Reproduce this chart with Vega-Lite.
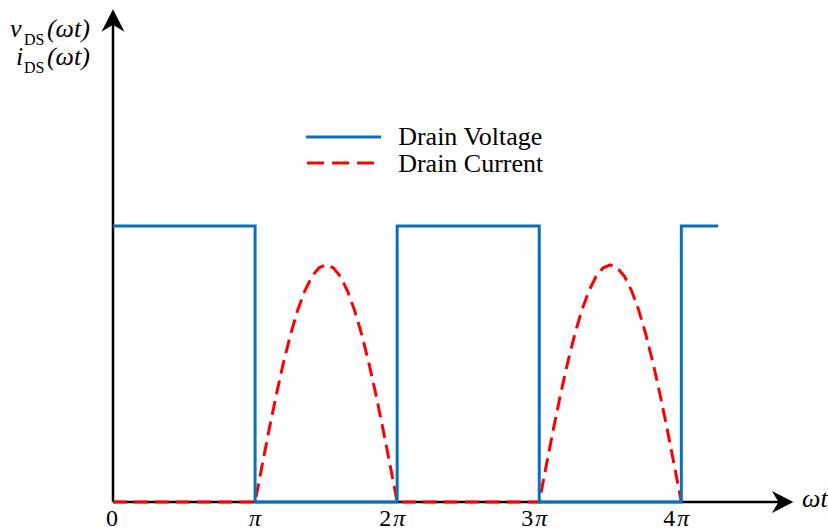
{
  "$schema": "https://vega.github.io/schema/vega-lite/v6.json",
  "autosize": {"type": "none"},
  "width": 682,
  "height": 497,
  "padding": {"left": 113, "top": 5, "right": 33, "bottom": 28},
  "background": "white",
  "config": {"view": {"stroke": null}},
  "datasets": {
    "axes": [
      {"x": 0, "x2": 4.7, "y": 0, "y2": 0},
      {"x": 0, "x2": 0, "y": 0, "y2": 1.73}
    ],
    "voltage": [
      {"i": 0, "x": 0, "y": 1},
      {"i": 1, "x": 1, "y": 1},
      {"i": 2, "x": 1, "y": 0},
      {"i": 3, "x": 2, "y": 0},
      {"i": 4, "x": 2, "y": 1},
      {"i": 5, "x": 3, "y": 1},
      {"i": 6, "x": 3, "y": 0},
      {"i": 7, "x": 4, "y": 0},
      {"i": 8, "x": 4, "y": 1},
      {"i": 9, "x": 4.26, "y": 1}
    ],
    "current": [
      {"i": 0, "x": 0, "y": 0},
      {"i": 1, "x": 1.0, "y": 0},
      {"i": 2, "x": 1.05, "y": 0.134},
      {"i": 3, "x": 1.1, "y": 0.265},
      {"i": 4, "x": 1.15, "y": 0.39},
      {"i": 5, "x": 1.2, "y": 0.505},
      {"i": 6, "x": 1.25, "y": 0.607},
      {"i": 7, "x": 1.3, "y": 0.695},
      {"i": 8, "x": 1.35, "y": 0.765},
      {"i": 9, "x": 1.4, "y": 0.817},
      {"i": 10, "x": 1.45, "y": 0.848},
      {"i": 11, "x": 1.5, "y": 0.859},
      {"i": 12, "x": 1.55, "y": 0.848},
      {"i": 13, "x": 1.6, "y": 0.817},
      {"i": 14, "x": 1.65, "y": 0.765},
      {"i": 15, "x": 1.7, "y": 0.695},
      {"i": 16, "x": 1.75, "y": 0.607},
      {"i": 17, "x": 1.8, "y": 0.505},
      {"i": 18, "x": 1.85, "y": 0.39},
      {"i": 19, "x": 1.9, "y": 0.265},
      {"i": 20, "x": 1.95, "y": 0.134},
      {"i": 21, "x": 2.0, "y": 0},
      {"i": 22, "x": 3.0, "y": 0},
      {"i": 23, "x": 3.05, "y": 0.134},
      {"i": 24, "x": 3.1, "y": 0.265},
      {"i": 25, "x": 3.15, "y": 0.39},
      {"i": 26, "x": 3.2, "y": 0.505},
      {"i": 27, "x": 3.25, "y": 0.607},
      {"i": 28, "x": 3.3, "y": 0.695},
      {"i": 29, "x": 3.35, "y": 0.765},
      {"i": 30, "x": 3.4, "y": 0.817},
      {"i": 31, "x": 3.45, "y": 0.848},
      {"i": 32, "x": 3.5, "y": 0.859},
      {"i": 33, "x": 3.55, "y": 0.848},
      {"i": 34, "x": 3.6, "y": 0.817},
      {"i": 35, "x": 3.65, "y": 0.765},
      {"i": 36, "x": 3.7, "y": 0.695},
      {"i": 37, "x": 3.75, "y": 0.607},
      {"i": 38, "x": 3.8, "y": 0.505},
      {"i": 39, "x": 3.85, "y": 0.39},
      {"i": 40, "x": 3.9, "y": 0.265},
      {"i": 41, "x": 3.95, "y": 0.134},
      {"i": 42, "x": 4.0, "y": 0}
    ],
    "arrowUp": [{"x": 0, "y": 1.7428}],
    "arrowRight": [{"x": 4.711, "y": 0}],
    "labelsBig": [
      {"x": -0.725, "y": 1.685, "text": "v"},
      {"x": -0.465, "y": 1.685, "text": "(ωt)"},
      {"x": -0.683, "y": 1.583, "text": "i"},
      {"x": -0.465, "y": 1.583, "text": "(ωt)"},
      {"x": 4.85, "y": -0.018, "text": "ωt"}
    ],
    "labelsSmall": [
      {"x": -0.627, "y": 1.656, "text": "DS"},
      {"x": -0.627, "y": 1.554, "text": "DS"}
    ],
    "tickZero": [{"x": 0, "y": -0.087, "text": "0"}],
    "tickPiAlone": [{"x": 1, "y": -0.087, "text": "π"}],
    "tickDigits": [
      {"x": 2, "y": -0.087, "text": "2"},
      {"x": 3, "y": -0.087, "text": "3"},
      {"x": 4, "y": -0.087, "text": "4"}
    ],
    "tickPi": [
      {"x": 2, "y": -0.087, "text": "π"},
      {"x": 3, "y": -0.087, "text": "π"},
      {"x": 4, "y": -0.087, "text": "π"}
    ],
    "legendV": [{"x": 1.359, "x2": 1.887, "y": 1.322}],
    "legendC": [{"x": 1.366, "x2": 1.866, "y": 1.228}],
    "legendText": [
      {"x": 2.007, "y": 1.2935, "text": "Drain Voltage"},
      {"x": 2.007, "y": 1.1957, "text": "Drain Current"}
    ]
  },
  "layer": [
    {
      "data": {"name": "axes"},
      "mark": {"type": "rule", "color": "black", "strokeWidth": 2.5},
      "encoding": {
        "x": {"field": "x", "type": "quantitative", "scale": {"domain": [0, 4.8], "nice": false, "zero": false}, "axis": null},
        "x2": {"field": "x2"},
        "y": {"field": "y", "type": "quantitative", "scale": {"domain": [0, 1.8], "nice": false, "zero": false}, "axis": null},
        "y2": {"field": "y2"}
      }
    },
    {
      "data": {"name": "current"},
      "mark": {"type": "line", "color": "#ff0000", "strokeWidth": 3, "strokeDash": [14, 7]},
      "encoding": {
        "x": {"field": "x", "type": "quantitative"},
        "y": {"field": "y", "type": "quantitative"},
        "order": {"field": "i"}
      }
    },
    {
      "data": {"name": "voltage"},
      "mark": {"type": "line", "color": "#0b6fc0", "strokeWidth": 3},
      "encoding": {
        "x": {"field": "x", "type": "quantitative"},
        "y": {"field": "y", "type": "quantitative"},
        "order": {"field": "i"}
      }
    },
    {
      "data": {"name": "arrowUp"},
      "mark": {"type": "point", "shape": "M0,-1L1,0.95L0,0.35L-1,0.95Z", "filled": true, "color": "black", "opacity": 1, "size": 529, "strokeWidth": 0},
      "encoding": {
        "x": {"field": "x", "type": "quantitative"},
        "y": {"field": "y", "type": "quantitative"}
      }
    },
    {
      "data": {"name": "arrowRight"},
      "mark": {"type": "point", "shape": "M1,0L-0.95,-1L-0.35,0L-0.95,1Z", "filled": true, "color": "black", "opacity": 1, "size": 484, "strokeWidth": 0},
      "encoding": {
        "x": {"field": "x", "type": "quantitative"},
        "y": {"field": "y", "type": "quantitative"}
      }
    },
    {
      "data": {"name": "labelsBig"},
      "mark": {"type": "text", "font": "Liberation Serif", "fontStyle": "italic", "fontSize": 26, "align": "left", "baseline": "alphabetic", "color": "black"},
      "encoding": {
        "x": {"field": "x", "type": "quantitative"},
        "y": {"field": "y", "type": "quantitative"},
        "text": {"field": "text"}
      }
    },
    {
      "data": {"name": "labelsSmall"},
      "mark": {"type": "text", "font": "Liberation Serif", "fontSize": 16, "align": "left", "baseline": "alphabetic", "color": "black"},
      "encoding": {
        "x": {"field": "x", "type": "quantitative"},
        "y": {"field": "y", "type": "quantitative"},
        "text": {"field": "text"}
      }
    },
    {
      "data": {"name": "tickZero"},
      "mark": {"type": "text", "font": "Liberation Serif", "fontSize": 24, "align": "center", "baseline": "alphabetic", "color": "black", "dx": -1},
      "encoding": {
        "x": {"field": "x", "type": "quantitative"},
        "y": {"field": "y", "type": "quantitative"},
        "text": {"field": "text"}
      }
    },
    {
      "data": {"name": "tickPiAlone"},
      "mark": {"type": "text", "font": "Liberation Serif", "fontStyle": "italic", "fontSize": 24, "align": "center", "baseline": "alphabetic", "color": "black"},
      "encoding": {
        "x": {"field": "x", "type": "quantitative"},
        "y": {"field": "y", "type": "quantitative"},
        "text": {"field": "text"}
      }
    },
    {
      "data": {"name": "tickDigits"},
      "mark": {"type": "text", "font": "Liberation Serif", "fontSize": 24, "align": "center", "baseline": "alphabetic", "color": "black", "dx": -12},
      "encoding": {
        "x": {"field": "x", "type": "quantitative"},
        "y": {"field": "y", "type": "quantitative"},
        "text": {"field": "text"}
      }
    },
    {
      "data": {"name": "tickPi"},
      "mark": {"type": "text", "font": "Liberation Serif", "fontStyle": "italic", "fontSize": 24, "align": "center", "baseline": "alphabetic", "color": "black", "dx": 2},
      "encoding": {
        "x": {"field": "x", "type": "quantitative"},
        "y": {"field": "y", "type": "quantitative"},
        "text": {"field": "text"}
      }
    },
    {
      "data": {"name": "legendV"},
      "mark": {"type": "rule", "color": "#0b6fc0", "strokeWidth": 3},
      "encoding": {
        "x": {"field": "x", "type": "quantitative"},
        "x2": {"field": "x2"},
        "y": {"field": "y", "type": "quantitative"}
      }
    },
    {
      "data": {"name": "legendC"},
      "mark": {"type": "rule", "color": "#ff0000", "strokeWidth": 3, "strokeDash": [17, 8]},
      "encoding": {
        "x": {"field": "x", "type": "quantitative"},
        "x2": {"field": "x2"},
        "y": {"field": "y", "type": "quantitative"}
      }
    },
    {
      "data": {"name": "legendText"},
      "mark": {"type": "text", "font": "Liberation Serif", "fontSize": 26, "align": "left", "baseline": "alphabetic", "color": "black"},
      "encoding": {
        "x": {"field": "x", "type": "quantitative"},
        "y": {"field": "y", "type": "quantitative"},
        "text": {"field": "text"}
      }
    }
  ]
}
